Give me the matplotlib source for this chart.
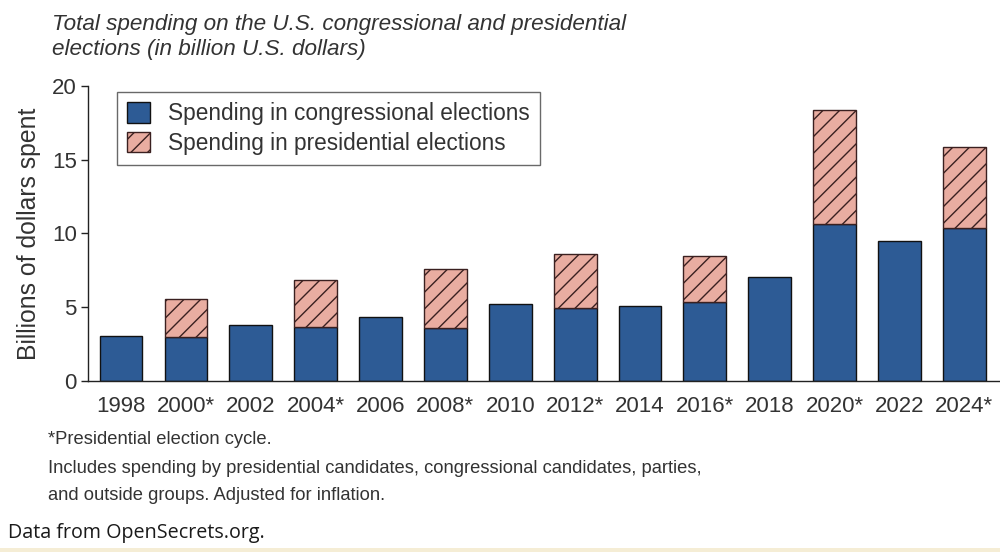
import numpy as np
import matplotlib.pyplot as plt
from matplotlib.patches import Patch, Rectangle

plt.rcParams['font.family'] = ['Liberation Sans', 'DejaVu Sans']
plt.rcParams['hatch.linewidth'] = 1.0

years = ['1998', '2000*', '2002', '2004*', '2006', '2008*', '2010',
         '2012*', '2014', '2016*', '2018', '2020*', '2022', '2024*']
congressional = [3.07, 2.96, 3.78, 3.66, 4.36, 3.57, 5.2,
                 4.93, 5.06, 5.38, 7.07, 10.62, 9.49, 10.35]
presidential = [0, 2.62, 0, 3.21, 0, 4.02, 0,
                3.66, 0, 3.12, 0, 7.73, 0, 5.49]

blue = '#2d5b95'
pink = '#e9ada1'
text_col = '#333333'

fig = plt.figure(figsize=(10, 5.52), dpi=100)
ax = fig.add_axes([0.088, 0.31, 0.912, 0.534])

x = np.arange(len(years))
ax.bar(x, congressional, width=0.66, color=blue, edgecolor='#111111', linewidth=1.0)
pres_idx = [i for i, v in enumerate(presidential) if v > 0]
ax.bar(x[pres_idx], [presidential[i] for i in pres_idx], width=0.66,
       bottom=[congressional[i] for i in pres_idx], color=pink,
       edgecolor='#3a2020', linewidth=1.0, hatch='//')

ax.set_xlim(-0.51, 13.55)
ax.set_ylim(0, 20)
ax.set_yticks([0, 5, 10, 15, 20])
ax.set_xticks(x)
ax.set_xticklabels(years)
ax.spines['top'].set_visible(False)
ax.spines['right'].set_visible(False)
for s in ['left', 'bottom']:
    ax.spines[s].set_color('#222222')
    ax.spines[s].set_linewidth(1.0)
ax.tick_params(axis='y', length=5, width=1, colors='#222222', labelsize=16,
               labelcolor=text_col, pad=3)
ax.tick_params(axis='x', length=0, labelsize=16, labelcolor=text_col, pad=11)
ax.set_ylabel('Billions of dollars spent', fontsize=17.8, color=text_col, labelpad=8)

handles = [Patch(facecolor=blue, edgecolor='#111111', linewidth=1.0),
           Patch(facecolor=pink, edgecolor='#3a2020', linewidth=1.0, hatch='//')]
leg = ax.legend(handles, ['Spending in congressional elections',
                          'Spending in presidential elections'],
                loc='upper left', bbox_to_anchor=(0.032, 0.98), fontsize=16.3,
                frameon=True, fancybox=False, edgecolor='#444444',
                handlelength=1.0, handleheight=1.0, handletextpad=0.8,
                borderpad=0.45, labelspacing=0.3, labelcolor=text_col,
                borderaxespad=0)
leg.get_frame().set_linewidth(1.0)

fig.text(0.052, 0.974, 'Total spending on the U.S. congressional and presidential\n'
         'elections (in billion U.S. dollars)', fontsize=16.2, style='italic',
         color=text_col, ha='left', va='top', linespacing=1.25)

fig.text(0.048, 0.203, '*Presidential election cycle.', fontsize=13.2,
         color=text_col, ha='left', va='center')
fig.text(0.048, 0.152, 'Includes spending by presidential candidates, congressional candidates, parties,',
         fontsize=13.2, color=text_col, ha='left', va='center')
fig.text(0.048, 0.102, 'and outside groups. Adjusted for inflation.', fontsize=13.2,
         color=text_col, ha='left', va='center')
fig.text(0.008, 0.035, 'Data from OpenSecrets.org.', fontsize=14.2, color='#1a1a1a',
         family=['Open Sans', 'DejaVu Sans'], ha='left', va='center')

fig.patches.append(Rectangle((0, 0), 1, 0.008, transform=fig.transFigure,
                             facecolor='#f5edd5', edgecolor='none'))

fig.savefig('out.png', dpi=100)
